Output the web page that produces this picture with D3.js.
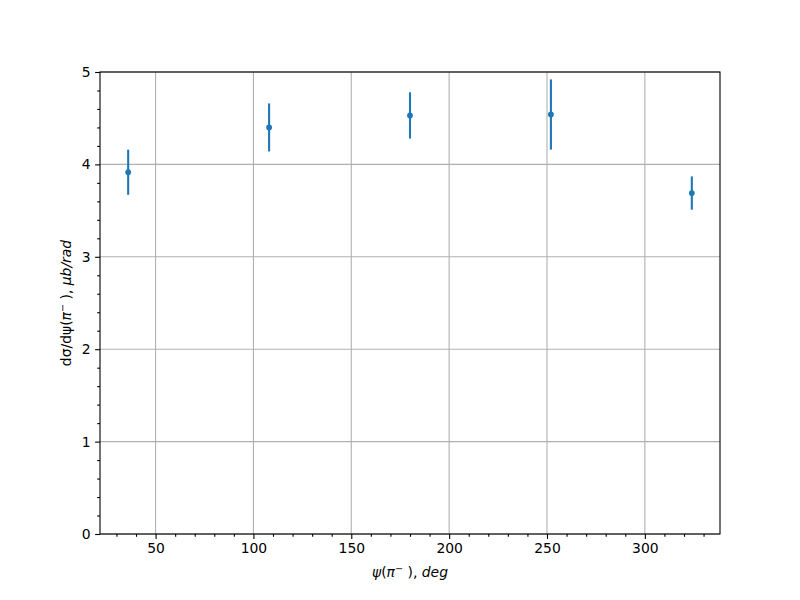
<!DOCTYPE html>
<html><head><meta charset="utf-8">
<script src="https://cdn.jsdelivr.net/npm/d3@7"></script>
<style>body{margin:0;background:#fff}svg{display:block}text{font-family:"DejaVu Sans",sans-serif}</style>
</head><body>
<svg id="c" width="800" height="600"></svg>
<script>
const angles = [36, 108, 180, 252, 324];
const values = [3.915, 4.40, 4.53, 4.54, 3.69];
const errors = [0.244, 0.26, 0.25, 0.38, 0.18];
const xTicks = [50, 100, 150, 200, 250, 300];
const yTicks = [0, 1, 2, 3, 4, 5];

const svg = d3.select("#c");
const L = 100, R = 720, T = 72, B = 534;
const x = d3.scaleLinear().domain([21.6, 338.4]).range([L, R]);
const y = d3.scaleLinear().domain([0, 5]).range([B, T]);
const color = "#1f77b4";

// grid
const g = svg.append("g");
g.selectAll(".gx").data(xTicks).join("line")
  .attr("x1", d => x(d)).attr("x2", d => x(d)).attr("y1", T).attr("y2", B)
  .attr("stroke", "#b0b0b0").attr("stroke-width", 1.1);
g.selectAll(".gy").data(yTicks).join("line")
  .attr("y1", d => y(d)).attr("y2", d => y(d)).attr("x1", L).attr("x2", R)
  .attr("stroke", "#b0b0b0").attr("stroke-width", 1.1);

// axes
const xMinor = d3.range(30, 340, 10).filter(v => v % 50 !== 0);
const yMinor = d3.range(0, 5.01, 0.2).map(v => +v.toFixed(1)).filter(v => Math.abs(v - Math.round(v)) > 1e-6);

const xAxis = svg.append("g").attr("transform", `translate(0,${B})`)
  .call(d3.axisBottom(x).tickValues(xTicks).tickSize(4.9).tickPadding(4.5).tickFormat(d3.format("d")));
const xAxisMinor = svg.append("g").attr("transform", `translate(0,${B})`)
  .call(d3.axisBottom(x).tickValues(xMinor).tickSize(2.8).tickFormat(""));
const yAxis = svg.append("g").attr("transform", `translate(${L},0)`)
  .call(d3.axisLeft(y).tickValues(yTicks).tickSize(4.9).tickPadding(4.5).tickFormat(d3.format("d")));
const yAxisMinor = svg.append("g").attr("transform", `translate(${L},0)`)
  .call(d3.axisLeft(y).tickValues(yMinor).tickSize(2.8).tickFormat(""));
[xAxis, xAxisMinor, yAxis, yAxisMinor].forEach(a => {
  a.select(".domain").remove();
  a.selectAll("line").attr("stroke", "#000").attr("stroke-width", 1.1);
  a.selectAll("text").attr("font-size", "13.9px").attr("fill", "#000").attr("font-family", "DejaVu Sans");
});

// frame
svg.append("rect").attr("x", L).attr("y", T).attr("width", R - L).attr("height", B - T)
  .attr("fill", "none").attr("stroke", "#000").attr("stroke-width", 1.1);

// error bars
svg.selectAll(".eb").data(angles).join("line")
  .attr("x1", d => x(d)).attr("x2", d => x(d))
  .attr("y1", (d, i) => y(values[i] - errors[i])).attr("y2", (d, i) => y(values[i] + errors[i]))
  .attr("stroke", color).attr("stroke-width", 2.1);
svg.selectAll(".pt").data(angles).join("circle")
  .attr("cx", d => x(d)).attr("cy", (d, i) => y(values[i])).attr("r", 2.9)
  .attr("fill", color);

// labels
const xl = svg.append("text").attr("x", (L + R) / 2).attr("y", 577).attr("text-anchor", "middle")
  .attr("font-size", "13.9px");
xl.append("tspan").attr("font-style", "italic").text("ψ");
xl.append("tspan").text("(");
xl.append("tspan").attr("font-style", "italic").text("π");
xl.append("tspan").attr("font-size", "9.7px").attr("dy", -5).text("−");
xl.append("tspan").attr("dy", 5).text(" ), ");
xl.append("tspan").attr("font-style", "italic").text("deg");

const yl = svg.append("text").attr("transform", `translate(71,${(T + B) / 2}) rotate(-90)`)
  .attr("text-anchor", "middle").attr("font-size", "13.9px");
yl.append("tspan").text("dσ/dψ(");
yl.append("tspan").attr("font-style", "italic").text("π");
yl.append("tspan").attr("font-size", "9.7px").attr("dy", -5).text("−");
yl.append("tspan").attr("dy", 5).text(" ), ");
yl.append("tspan").attr("font-style", "italic").text("μb/rad");
</script>
</body></html>
